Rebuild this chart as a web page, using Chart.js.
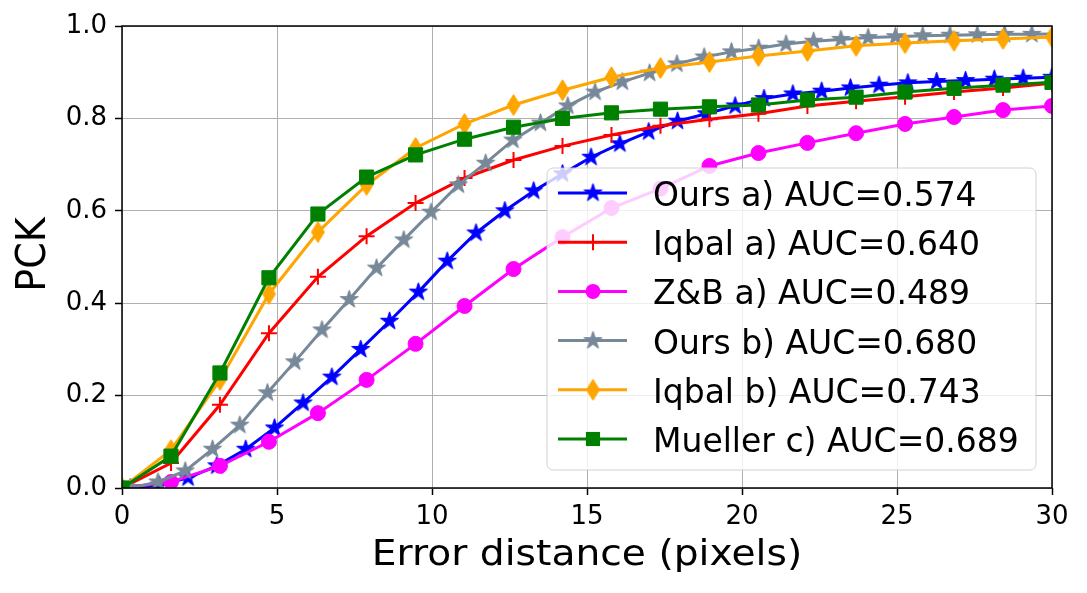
<!DOCTYPE html>
<html>
<head>
<meta charset="utf-8">
<script src="https://cdn.jsdelivr.net/npm/chart.js@4.4.1/dist/chart.umd.min.js"></script>
<style>
  html, body { margin: 0; padding: 0; background: #fff; }
  #wrap { width: 1087px; height: 593px; }
</style>
</head>
<body>
<div id="wrap"><canvas id="pck" width="1087" height="593"></canvas></div>
<script>
// error thresholds (pixels) used by Iqbal / Z&B / Mueller curves
const xCoarse = [0, 1.58, 3.16, 4.74, 6.32, 7.89, 9.47, 11.05, 12.63, 14.21,
                 15.79, 17.37, 18.95, 20.53, 22.11, 23.68, 25.26, 26.84, 28.42, 30];
// thresholds for our curves
const xOursA = [0.27, 1.2, 2.13, 3.06, 3.99, 4.92, 5.84, 6.77, 7.7, 8.63, 9.56,
                10.49, 11.42, 12.35, 13.28, 14.21, 15.13, 16.06, 16.99, 17.92, 18.85,
                19.78, 20.71, 21.64, 22.57, 23.5, 24.42, 25.35, 26.28, 27.21, 28.14,
                29.07, 30.0];
const xOursB = [0.28, 1.16, 2.04, 2.92, 3.8, 4.69, 5.57, 6.45, 7.33, 8.21, 9.09,
                9.97, 10.85, 11.73, 12.61, 13.5, 14.38, 15.26, 16.14, 17.02, 17.9,
                18.78, 19.66, 20.54, 21.42, 22.31, 23.19, 24.07, 24.95, 25.83, 26.71,
                27.59, 28.47, 29.35, 30.23];

// PCK values
const oursA = [0.0, 0.006, 0.022, 0.048, 0.084, 0.13, 0.184, 0.24, 0.30, 0.361, 0.424,
               0.491, 0.552, 0.60, 0.643, 0.68, 0.716, 0.745, 0.771, 0.794, 0.81,
               0.827, 0.843, 0.853, 0.859, 0.866, 0.872, 0.877, 0.88, 0.882, 0.885,
               0.887, 0.889];
const iqbalA = [0.0, 0.054, 0.18, 0.335, 0.457, 0.545, 0.617, 0.671, 0.71, 0.74,
                0.764, 0.784, 0.798, 0.81, 0.827, 0.837, 0.847, 0.857, 0.866, 0.876];
const zbA = [0.0, 0.013, 0.048, 0.10, 0.162, 0.234, 0.312, 0.394, 0.474, 0.543,
             0.606, 0.648, 0.697, 0.725, 0.747, 0.768, 0.788, 0.803, 0.818, 0.827];
const oursB = [0.0, 0.013, 0.037, 0.084, 0.136, 0.206, 0.273, 0.342, 0.408, 0.476, 0.537,
               0.597, 0.656, 0.703, 0.753, 0.79, 0.827, 0.857, 0.879, 0.898, 0.918,
               0.933, 0.944, 0.952, 0.961, 0.967, 0.971, 0.975, 0.977, 0.979, 0.98,
               0.981, 0.982, 0.982, 0.983];
const iqbalB = [0.0, 0.082, 0.234, 0.42, 0.554, 0.656, 0.736, 0.788, 0.829, 0.861,
                0.889, 0.909, 0.922, 0.935, 0.946, 0.957, 0.963, 0.968, 0.972, 0.976];
const muellerC = [0.0, 0.069, 0.249, 0.455, 0.593, 0.673, 0.721, 0.755, 0.781, 0.80,
                  0.812, 0.82, 0.825, 0.829, 0.84, 0.846, 0.857, 0.865, 0.872, 0.878];

const seriesLabels = ["Ours a) AUC=0.574", "Iqbal a) AUC=0.640", "Z&B a) AUC=0.489",
                      "Ours b) AUC=0.680", "Iqbal b) AUC=0.743", "Mueller c) AUC=0.689"];
const xTitle = "Error distance (pixels)";
const yTitle = "PCK";

const FONT = "'DejaVu Sans', sans-serif";
Chart.defaults.font.family = FONT;
Chart.defaults.color = "#000";

// filled matplotlib-like star marker
function starMarker(color, r) {
  const c = document.createElement("canvas");
  const s = Math.ceil(r * 2 + 4);
  c.width = s; c.height = s;
  const g = c.getContext("2d");
  g.translate(s / 2, s / 2);
  g.beginPath();
  for (let i = 0; i < 10; i++) {
    const rad = i % 2 === 0 ? r : r * 0.382;
    const a = -Math.PI / 2 + i * Math.PI / 5;
    const px = Math.cos(a) * rad, py = Math.sin(a) * rad;
    if (i === 0) g.moveTo(px, py); else g.lineTo(px, py);
  }
  g.closePath();
  g.fillStyle = color;
  g.fill();
  g.lineWidth = 1;
  g.strokeStyle = color;
  g.stroke();
  return c;
}

// thin diamond ('d' in matplotlib)
function diamondMarker(color, hw, hh) {
  const c = document.createElement("canvas");
  c.width = Math.ceil(hw * 2 + 4); c.height = Math.ceil(hh * 2 + 4);
  const g = c.getContext("2d");
  g.translate(c.width / 2, c.height / 2);
  g.beginPath();
  g.moveTo(0, -hh); g.lineTo(hw, 0); g.lineTo(0, hh); g.lineTo(-hw, 0);
  g.closePath();
  g.fillStyle = color;
  g.fill();
  g.lineWidth = 1;
  g.strokeStyle = color;
  g.stroke();
  return c;
}

const styles = [
  { color: "#0000ff", marker: starMarker("#0000ff", 9.5), radius: 9 },
  { color: "#ff0000", marker: "cross", radius: 8, pbw: 2 },
  { color: "#ff00ff", marker: "circle", radius: 7.5 },
  { color: "#778899", marker: starMarker("#778899", 9.5), radius: 9 },
  { color: "#ffa500", marker: diamondMarker("#ffa500", 6.5, 10.5), radius: 9 },
  { color: "#008000", marker: "rect", radius: 10 }
];
const xsets = [xOursA, xCoarse, xCoarse, xOursB, xCoarse, xCoarse];
const ysets = [oursA, iqbalA, zbA, oursB, iqbalB, muellerC];

const datasets = ysets.map((ys, i) => ({
  label: seriesLabels[i],
  data: ys.map((y, j) => ({ x: xsets[i][j], y: y })),
  borderColor: styles[i].color,
  backgroundColor: styles[i].color,
  pointBackgroundColor: styles[i].color,
  pointBorderColor: styles[i].color,
  pointStyle: styles[i].marker,
  pointRadius: styles[i].radius,
  pointBorderWidth: styles[i].pbw || 1,
  borderWidth: 3,
  tension: 0,
  order: ysets.length - i   // later series drawn on top, like matplotlib
}));

// draw a marker for the legend sample
function drawMarker(ctx, st, x, y) {
  ctx.save();
  ctx.fillStyle = st.color;
  ctx.strokeStyle = st.color;
  if (typeof st.marker !== "string") {
    ctx.drawImage(st.marker, x - st.marker.width / 2, y - st.marker.height / 2);
  } else if (st.marker === "circle") {
    ctx.beginPath(); ctx.arc(x, y, st.radius, 0, Math.PI * 2); ctx.fill();
  } else if (st.marker === "rect") {
    const h = st.radius * Math.SQRT1_2;
    ctx.fillRect(x - h, y - h, 2 * h, 2 * h);
  } else if (st.marker === "cross") {
    ctx.lineWidth = 2;
    ctx.beginPath();
    ctx.moveTo(x - st.radius, y); ctx.lineTo(x + st.radius, y);
    ctx.moveTo(x, y - st.radius); ctx.lineTo(x, y + st.radius);
    ctx.stroke();
  }
  ctx.restore();
}

function roundRect(ctx, x, y, w, h, r) {
  ctx.beginPath();
  ctx.moveTo(x + r, y);
  ctx.arcTo(x + w, y, x + w, y + h, r);
  ctx.arcTo(x + w, y + h, x, y + h, r);
  ctx.arcTo(x, y + h, x, y, r);
  ctx.arcTo(x, y, x + w, y, r);
  ctx.closePath();
}

const decorations = {
  id: "decorations",
  afterDatasetsDraw(chart) {
    const ctx = chart.ctx;
    const a = chart.chartArea;
    // axes frame
    ctx.save();
    ctx.strokeStyle = "#000";
    ctx.lineWidth = 1.5;
    ctx.strokeRect(a.left, a.top, a.right - a.left, a.bottom - a.top);
    ctx.restore();

    // legend
    const lx = 547, ly = 168, lw = 489, lh = 302;
    ctx.save();
    roundRect(ctx, lx, ly, lw, lh, 6);
    ctx.fillStyle = "rgba(255,255,255,0.8)";
    ctx.fill();
    ctx.strokeStyle = "rgba(204,204,204,0.9)";
    ctx.lineWidth = 1;
    ctx.stroke();
    ctx.font = "33px " + FONT;
    ctx.textBaseline = "alphabetic";
    ctx.textAlign = "left";
    seriesLabels.forEach((lab, i) => {
      const y = 193 + i * 49.2;
      ctx.strokeStyle = styles[i].color;
      ctx.lineWidth = 3;
      ctx.beginPath(); ctx.moveTo(558, y); ctx.lineTo(627, y); ctx.stroke();
      drawMarker(ctx, styles[i], 593, y);
      ctx.fillStyle = "#000";
      ctx.fillText(lab, 653, y + 13);
    });
    ctx.restore();
  },
  afterDraw(chart) {
    const ctx = chart.ctx;
    const a = chart.chartArea;
    ctx.save();
    ctx.fillStyle = "#000";
    ctx.textAlign = "center";
    ctx.textBaseline = "alphabetic";
    // x title (source image is slightly wider than tall)
    ctx.save();
    ctx.font = "35px " + FONT;
    ctx.translate((a.left + a.right) / 2, 565);
    ctx.scale(1.12, 1);
    ctx.fillText(xTitle, 0, 0);
    ctx.restore();
    // y title
    ctx.font = "38px " + FONT;
    ctx.translate(45, 254.5);
    ctx.scale(1.08, 1);
    ctx.rotate(-Math.PI / 2);
    ctx.fillText(yTitle, 0, 0);
    ctx.restore();
  }
};

new Chart(document.getElementById("pck"), {
  type: "line",
  data: { datasets },
  options: {
    responsive: false,
    devicePixelRatio: 1,
    animation: false,
    events: [],
    layout: { padding: { top: 26, right: 35, left: 0, bottom: 0 } },
    plugins: { legend: { display: false }, tooltip: { enabled: false } },
    scales: {
      x: {
        type: "linear",
        min: 0, max: 30,
        afterFit(scale) { scale.height = 105; },
        border: { display: false },
        grid: { color: "#b0b0b0", lineWidth: 1, tickLength: 7, tickColor: "#000", tickWidth: 1.5 },
        ticks: { stepSize: 5, padding: 7, font: { size: 26 }, color: "#000", maxRotation: 0 }
      },
      y: {
        min: 0, max: 1,
        afterFit(scale) { scale.width = 122; },
        border: { display: false },
        grid: { color: "#b0b0b0", lineWidth: 1, tickLength: 7, tickColor: "#000", tickWidth: 1.5 },
        ticks: { stepSize: 0.2, padding: 8, font: { size: 26 }, color: "#000",
                 callback: v => v.toFixed(1) }
      }
    }
  },
  plugins: [decorations]
});
</script>
</body>
</html>
